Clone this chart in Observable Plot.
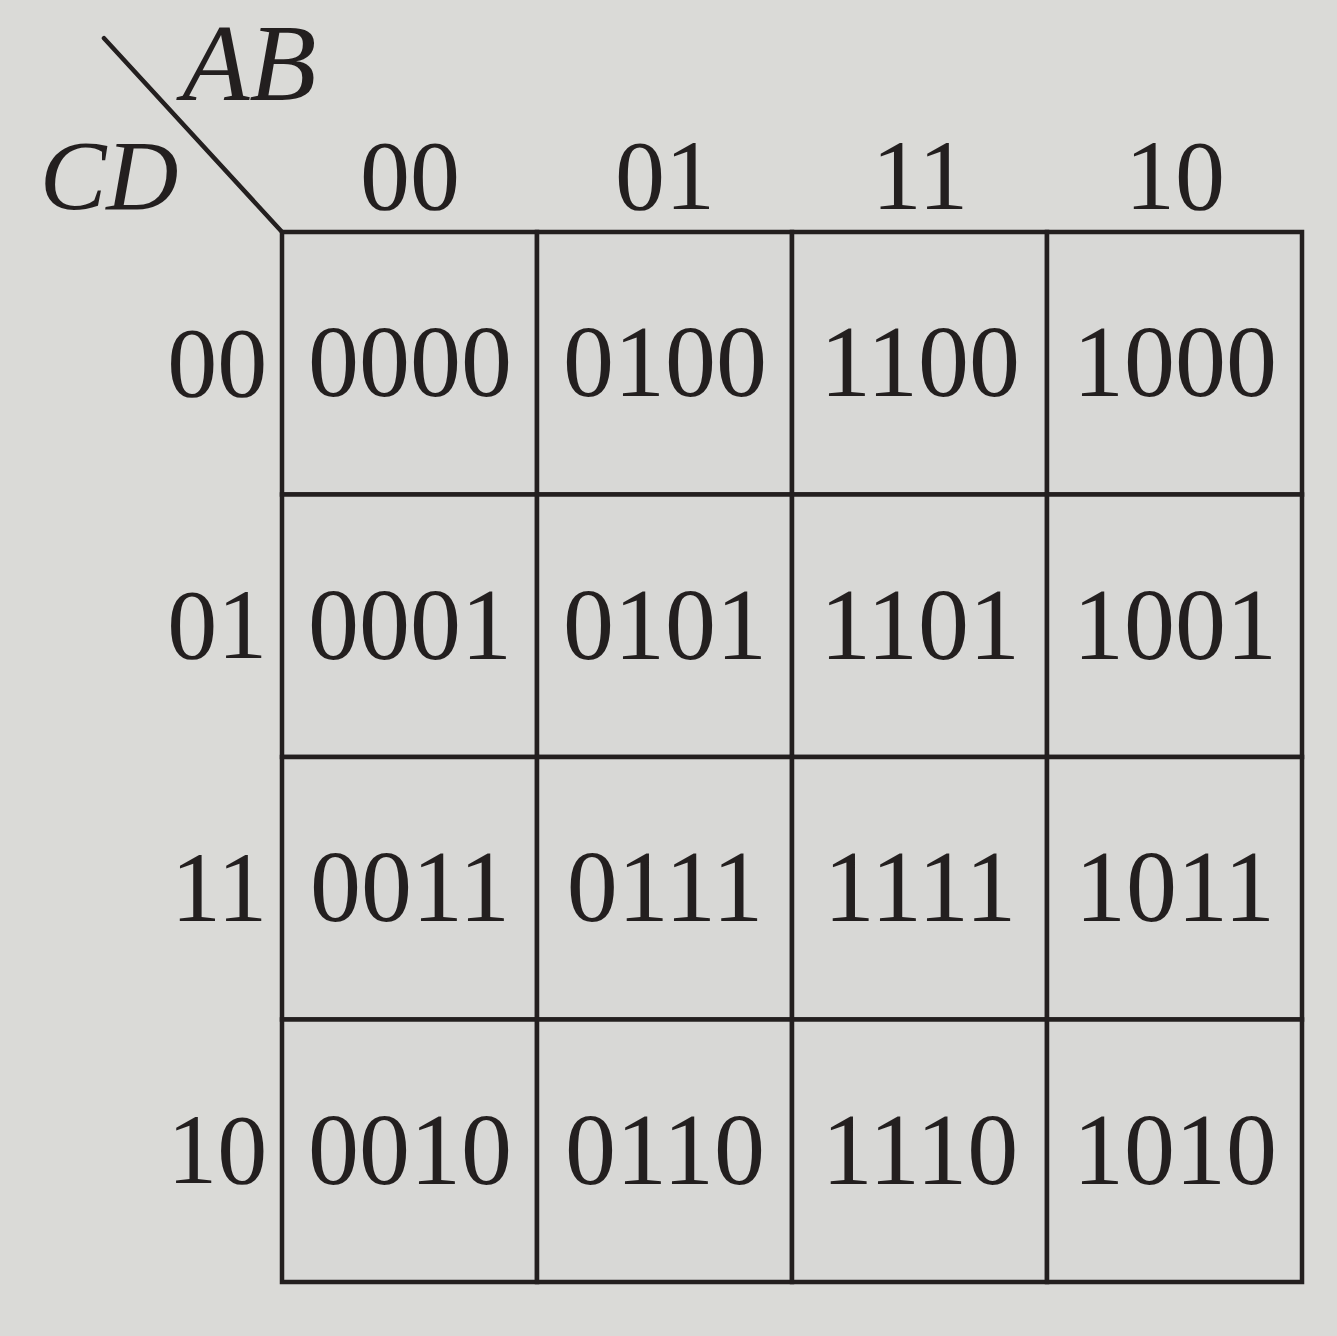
<!DOCTYPE html>
<html><head><meta charset="utf-8">
<script src="https://cdn.jsdelivr.net/npm/d3@7"></script>
<script src="https://cdn.jsdelivr.net/npm/@observablehq/plot@0.6"></script>
<style>
html,body{margin:0;padding:0;background:#dadad7;}
</style></head>
<body><div id="chart"></div>
<script>
const colLabels = ["00","01","11","10"];   // AB
const rowLabels = ["00","01","11","10"];   // CD
const varTop = "AB";
const varLeft = "CD";
const diagonal = [{x:-0.70,y:-0.74},{x:0,y:0}];

const cells = [];
rowLabels.forEach((r,ri)=>colLabels.forEach((c,ci)=>cells.push({ci,ri,label:c+r})));
const cols = colLabels.map((c,i)=>({i,label:c}));
const rows = rowLabels.map((r,i)=>({i,label:r}));

const font = "Liberation Serif, Times New Roman, serif";
const ink = "#231f1f";

const chart = Plot.plot({
  width:1337, height:1336,
  marginTop:0, marginBottom:0, marginLeft:0, marginRight:0,
  style:{background:"#dadad7", fontFamily:font},
  x:{type:"linear", domain:[0,4], range:[282,1302], axis:null},
  y:{type:"linear", domain:[0,4], range:[232,1282], axis:null},
  marks:[
    Plot.rect(cells,{x1:d=>d.ci,x2:d=>d.ci+1,y1:d=>d.ri,y2:d=>d.ri+1,fill:"#d8d8d6",stroke:ink,strokeWidth:4.5}),
    Plot.text(cells,{x:d=>d.ci+0.5,y:d=>d.ri+0.5,text:"label",fontSize:102,fill:ink,fontFamily:font,lineAnchor:"middle"}),
    Plot.text(cols,{x:d=>d.i+0.5,y:-0.21,text:"label",fontSize:100,fill:ink,fontFamily:font,lineAnchor:"middle"}),
    Plot.text(rows,{x:-0.06,y:d=>d.i+0.5,text:"label",fontSize:100,fill:ink,fontFamily:font,textAnchor:"end",lineAnchor:"middle"}),
    Plot.line(diagonal,{x:"x",y:"y",stroke:ink,strokeWidth:4.5}),
    Plot.text([varTop],{x:-0.13,y:-0.64,text:d=>d,fontSize:110,fontStyle:"italic",fill:ink,fontFamily:font,lineAnchor:"middle"}),
    Plot.text([varLeft],{x:-0.68,y:-0.21,text:d=>d,fontSize:100,fontStyle:"italic",fill:ink,fontFamily:font,lineAnchor:"middle"})
  ]
});
document.getElementById("chart").appendChild(chart);
</script></body></html>
